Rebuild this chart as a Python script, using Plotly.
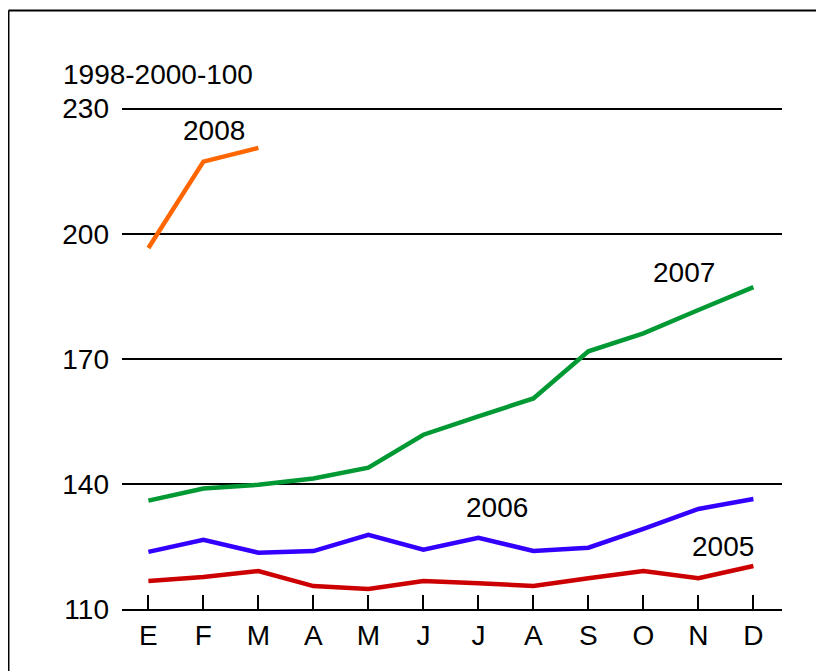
import plotly.graph_objects as go

months = ["E", "F", "M", "A", "M", "J", "J", "A", "S", "O", "N", "D"]
y2005 = [116.7, 117.7, 119.1, 115.5, 114.8, 116.7, 116.2, 115.5, 117.4, 119.1, 117.4, 120.3]
y2006 = [123.7, 126.6, 123.5, 123.9, 127.8, 124.2, 127.1, 123.9, 124.7, 129.2, 134.0, 136.4]
y2007 = [136.0, 138.9, 139.8, 141.3, 143.9, 151.8, 156.2, 160.5, 171.8, 176.1, 181.7, 187.2]
y2008 = [196.6, 217.3, 220.6]
yticks = [110, 140, 170, 200, 230]

FONT = "Liberation Sans, Arial, sans-serif"
xs = list(range(len(months)))

fig = go.Figure()
series = [
    ("2005", y2005, "#CC0000"),
    ("2006", y2006, "#3300FF"),
    ("2007", y2007, "#009933"),
    ("2008", y2008, "#FF6600"),
]
for name, ys, col in series:
    fig.add_trace(go.Scatter(
        x=xs[:len(ys)], y=ys, mode="lines", name=name,
        line=dict(color=col, width=4.5), showlegend=False,
    ))

# series labels
labels = [("2008", 1.2, 224.7), ("2007", 9.73, 190.8), ("2006", 6.34, 134.3), ("2005", 10.44, 124.9)]
for txt, lx, ly in labels:
    fig.add_annotation(x=lx, y=ly, text=txt, showarrow=False,
                       font=dict(size=28, color="black", family=FONT))

# unit label above axis
fig.add_annotation(xref="paper", yref="paper", x=-0.093, y=1.064, text="1998-2000-100",
                   showarrow=False, xanchor="left", yanchor="middle",
                   font=dict(size=28, color="black", family=FONT))

# outer frame (left and top edges only visible)
fig.add_shape(type="line", xref="paper", yref="paper", x0=-0.172, x1=-0.172, y0=1.192, y1=-0.2,
              line=dict(color="black", width=2))
fig.add_shape(type="line", xref="paper", yref="paper", x0=-0.172, x1=1.2, y0=1.192, y1=1.192,
              line=dict(color="black", width=2))

fig.update_xaxes(
    range=[-0.48, 11.52], tickmode="array", tickvals=xs, ticktext=months,
    ticks="inside", ticklen=14, tickwidth=2, tickcolor="black",
    showline=True, linecolor="black", linewidth=2, showgrid=False, zeroline=False,
    tickfont=dict(size=28, color="black", family=FONT), ticklabelstandoff=0,
)
fig.update_yaxes(
    range=[110, 230.4], tickmode="array", tickvals=yticks,
    showgrid=True, gridcolor="black", gridwidth=2, zeroline=False, showline=False,
    ticks="", tickfont=dict(size=28, color="black", family=FONT), ticklabelstandoff=12,
)
fig.update_layout(
    width=816, height=663, plot_bgcolor="white", paper_bgcolor="white",
    margin=dict(l=114, r=42, t=99, b=62), showlegend=False,
)
fig.write_html("out.html")
